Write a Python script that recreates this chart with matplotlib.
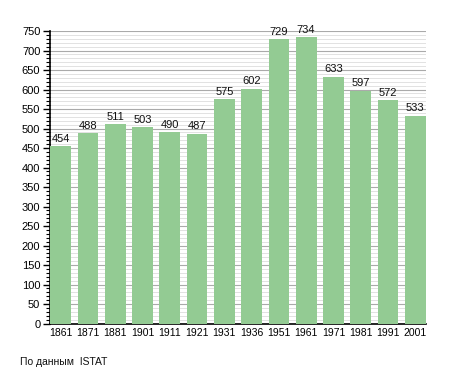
import matplotlib
matplotlib.use("Agg")
import matplotlib.pyplot as plt
from matplotlib.ticker import MultipleLocator

years = ["1861", "1871", "1881", "1901", "1911", "1921", "1931", "1936",
         "1951", "1961", "1971", "1981", "1991", "2001"]
population = [454, 488, 511, 503, 490, 487, 575, 602, 729, 734, 633, 597, 572, 533]

plt.rcParams['font.family'] = ['Liberation Sans', 'DejaVu Sans']

fig = plt.figure(figsize=(4.55, 3.73), dpi=100)
ax = fig.add_axes([0.110, 0.1327, 0.826, 0.784])

x = list(range(len(years)))
ax.bar(x, population, width=0.76, color='#93cb93', zorder=3)
for xi, v in zip(x, population):
    ax.text(xi, v + 6, str(v), ha='center', va='bottom', fontsize=8, color='#111111', zorder=4)

ax.set_xlim(-0.39, len(years) - 0.61)
ax.set_ylim(0, 750)
ax.set_xticks(x)
ax.set_xticklabels(years, fontsize=7.5)
ax.yaxis.set_major_locator(MultipleLocator(50))
ax.yaxis.set_minor_locator(MultipleLocator(10))
ax.tick_params(axis='y', which='major', length=5, width=1, labelsize=8, pad=2)
ax.tick_params(axis='y', which='minor', length=3, width=0.8)
ax.tick_params(axis='x', length=0, pad=3)

ax.grid(axis='y', which='major', color='#aaaaaa', linewidth=0.8, zorder=0)
ax.grid(axis='y', which='minor', color='#dddddd', linewidth=0.6, zorder=0)
ax.set_axisbelow(True)

for s in ['top', 'right']:
    ax.spines[s].set_visible(False)
ax.spines['left'].set_linewidth(1.2)
ax.spines['bottom'].set_linewidth(1.2)

fig.text(20 / 455, 1 - 362 / 373, "По данным  ISTAT", fontsize=7.5, va='center', ha='left', color='#111111')

fig.savefig("out.png", dpi=100)
